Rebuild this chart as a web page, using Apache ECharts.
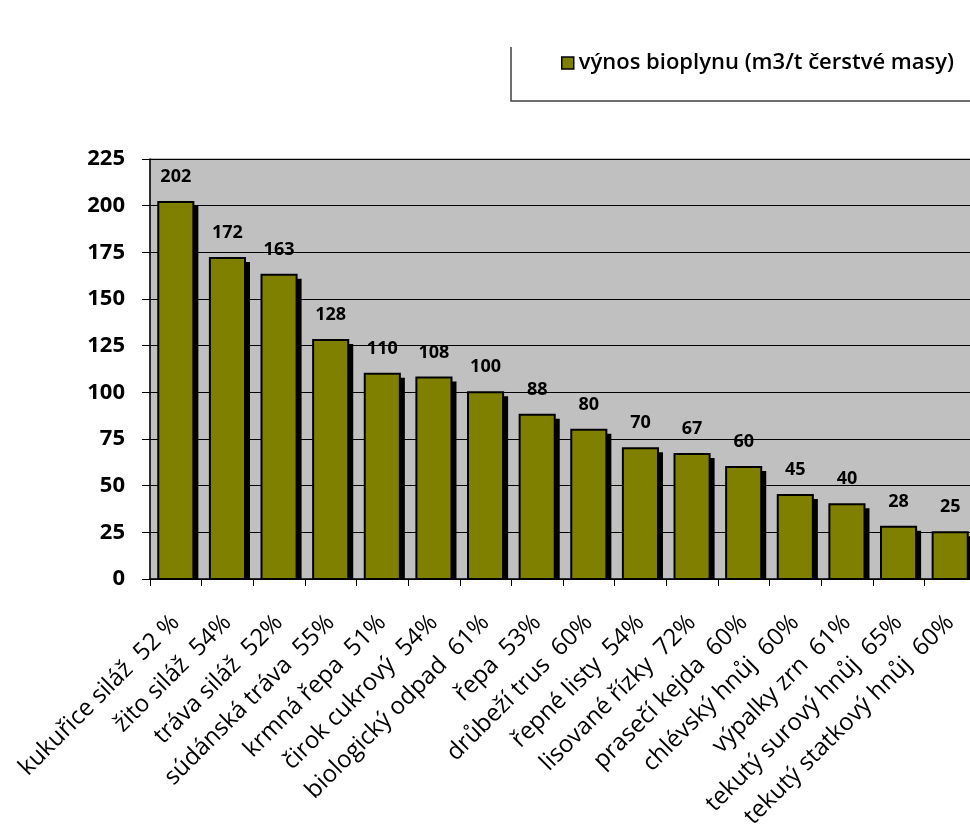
<!DOCTYPE html>
<html>
<head>
<meta charset="utf-8">
<script src="https://cdn.jsdelivr.net/npm/echarts@6/dist/echarts.min.js"></script>
<style>
html,body{margin:0;padding:0;background:#fff;overflow:hidden;}
#chart{width:990px;height:826px;}
</style>
</head>
<body>
<div id="chart"></div>
<script>
const categories = [
  "kukuřice siláž  52 %", "žito siláž  54%", "tráva siláž  52%", "súdánská tráva  55%",
  "krmná řepa  51%", "čirok cukrový  54%", "biologický odpad  61%", "řepa  53%",
  "drůbeží trus  60%", "řepné listy  54%", "lisované řízky  72%", "prasečí kejda  60%",
  "chlévský hnůj  60%", "výpalky zrn  61%", "tekutý surový hnůj  65%", "tekutý statkový hnůj  60%"
];
const values = [202, 172, 163, 128, 110, 108, 100, 88, 80, 70, 67, 60, 45, 40, 28, 25];
const seriesName = "výnos bioplynu (m3/t čerstvé masy)";
const yTicks = { min: 0, max: 225, interval: 25 };

const chart = echarts.init(document.getElementById('chart'), null, { renderer: 'canvas' });

function renderBar(params, api) {
  const i = api.value(0);
  const v = api.value(1);
  const top = api.coord([i, v]);
  const base = api.coord([i, 0]);
  const w = api.size([1, 0])[0] * 0.68;
  const h = base[1] - top[1];
  return {
    type: 'group',
    children: [
      { type: 'rect', shape: { x: top[0] - w / 2 + 5, y: top[1] + 4, width: w, height: h - 3 },
        style: { fill: '#000' } },
      { type: 'rect', shape: { x: top[0] - w / 2, y: top[1], width: w, height: h },
        style: { fill: '#808000', stroke: '#000', lineWidth: 2 } },
      { type: 'text', x: top[0], y: top[1] - 16,
        style: { text: String(v), align: 'center', verticalAlign: 'bottom',
          font: 'bold 18px "Open Sans"', fill: '#000' } }
    ]
  };
}

chart.setOption({
  animation: false,
  backgroundColor: '#ffffff',
  grid: {
    left: 150, top: 159, width: 826, height: 420,
    containLabel: false, outerBoundsMode: 'none',
    show: true, backgroundColor: '#c0c0c0', borderColor: '#808080', borderWidth: 1
  },
  legend: {
    left: 556, top: 47,
    icon: 'rect', itemWidth: 12, itemHeight: 12,
    itemStyle: { color: '#808000', borderColor: '#000', borderWidth: 1.5 },
    textStyle: { fontFamily: 'Open Sans', fontSize: 22, fontWeight: 600, color: '#000' },
    data: [seriesName]
  },
  graphic: [{
    type: 'polyline',
    shape: { points: [[511, 47], [511, 101], [990, 101]] },
    style: { stroke: '#404040', lineWidth: 1.5, fill: null }
  }],
  xAxis: {
    type: 'category',
    data: categories,
    axisLine: { lineStyle: { color: '#000', width: 1.5 } },
    axisTick: { show: true, alignWithLabel: false, length: 7, lineStyle: { color: '#000' } },
    axisLabel: {
      interval: 0, rotate: 45, margin: 40,
      fontFamily: 'Open Sans', fontSize: 24, color: '#000'
    },
    splitLine: { show: false }
  },
  yAxis: {
    type: 'value',
    min: yTicks.min, max: yTicks.max, interval: yTicks.interval,
    axisLine: { show: true, lineStyle: { color: '#000', width: 1.5 } },
    axisTick: { show: true, length: 8, lineStyle: { color: '#000' } },
    axisLabel: { margin: 25, fontFamily: 'Open Sans', fontSize: 22, fontWeight: 'bold', color: '#000' },
    splitLine: { show: true, lineStyle: { color: '#000', width: 1 } }
  },
  series: [{
    name: seriesName,
    type: 'custom',
    renderItem: renderBar,
    itemStyle: { color: '#808000' },
    encode: { x: 0, y: 1 },
    data: values.map((v, i) => [i, v])
  }]
});
</script>
</body>
</html>
